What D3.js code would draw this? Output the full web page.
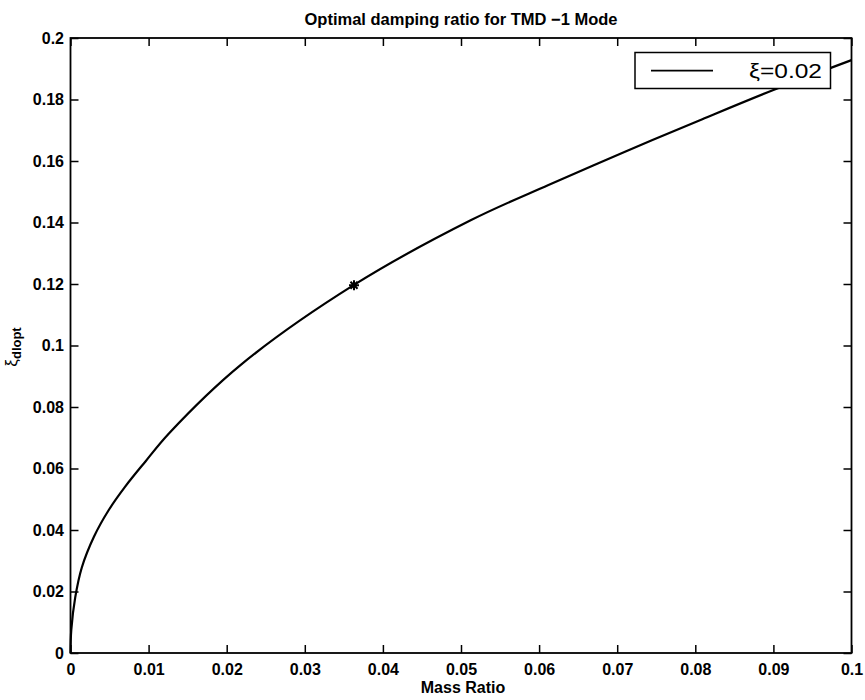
<!DOCTYPE html>
<html>
<head>
<meta charset="utf-8">
<script src="https://cdn.jsdelivr.net/npm/d3@7"></script>
<style>
  body { margin: 0; background: #fff; }
  text { font-family: "Liberation Sans", Arial, sans-serif; font-weight: bold; fill: #000; }
</style>
</head>
<body>
<div id="plot"></div>
<script>
// curve (mass ratio -> optimal damping ratio)
massRatio = [0, 0.0001, 0.0006, 0.00145, 0.003, 0.0049, 0.007, 0.0096, 0.0126, 0.0218, 0.0363, 0.0513, 0.0612, 0.0710, 0.0809, 0.0900, 0.1]
xiOpt     = [0, 0.0075, 0.0180, 0.0278, 0.0378, 0.0465, 0.0541, 0.0623, 0.0714, 0.0937, 0.1197, 0.1408, 0.1522, 0.1630, 0.1736, 0.1831, 0.1928]

// the starred point
markX = [0.0363]
markY = [0.1196]

xTicks = [0, 0.01, 0.02, 0.03, 0.04, 0.05, 0.06, 0.07, 0.08, 0.09, 0.1]
yTicks = [0, 0.02, 0.04, 0.06, 0.08, 0.1, 0.12, 0.14, 0.16, 0.18, 0.2]

legendLabel = "ξ=0.02"

const W = 865, H = 700
const mLeft = 70.5, mRight = 851.5, mTop = 38, mBottom = 653

svg = d3.select("#plot").append("svg").attr("width", W).attr("height", H).attr("viewBox", [0, 0, W, H])

x = d3.scaleLinear().domain([0, 0.1]).range([mLeft, mRight])
y = d3.scaleLinear().domain([0, 0.2]).range([mBottom, mTop])

fmt = d => d3.format("~g")(d)

// axes, ticks pointing inward on all four sides
function styleAxis(g, showText) {
  g.select(".domain").remove()
  g.selectAll(".tick line").attr("stroke", "#000").attr("stroke-width", 1.5)
  g.selectAll("text").style("font-size", "16px")
  if (!showText) g.selectAll("text").remove()
}

svg.append("g").attr("transform", `translate(0,${mBottom})`)
  .call(d3.axisBottom(x).tickValues(xTicks).tickFormat(fmt).tickSizeInner(-8).tickSizeOuter(0).tickPadding(10.6))
  .call(g => styleAxis(g, true))
svg.append("g").attr("transform", `translate(0,${mTop})`)
  .call(d3.axisTop(x).tickValues(xTicks).tickSizeInner(-8).tickSizeOuter(0))
  .call(g => styleAxis(g, false))
svg.append("g").attr("transform", `translate(${mLeft},0)`)
  .call(d3.axisLeft(y).tickValues(yTicks).tickFormat(fmt).tickSizeInner(-8).tickSizeOuter(0).tickPadding(6.5))
  .call(g => styleAxis(g, true))
svg.append("g").attr("transform", `translate(${mRight},0)`)
  .call(d3.axisRight(y).tickValues(yTicks).tickSizeInner(-8).tickSizeOuter(0))
  .call(g => styleAxis(g, false))

// box
svg.append("rect")
  .attr("x", mLeft).attr("y", mTop)
  .attr("width", mRight - mLeft).attr("height", mBottom - mTop)
  .attr("fill", "none").attr("stroke", "#000").attr("stroke-width", 1.8)

// curve
pts = massRatio.map((m, i) => [m, xiOpt[i]])
svg.append("path")
  .datum(pts)
  .attr("fill", "none")
  .attr("stroke", "#000")
  .attr("stroke-width", 2.2)
  .attr("d", d3.line().x(d => x(d[0])).y(d => y(d[1])).curve(d3.curveCatmullRom.alpha(0.5)))

// matlab style '*' marker: + and x on top of each other
function star(r) {
  const p = d3.path()
  for (let k = 0; k < 4; k++) {
    const a = k * Math.PI / 4
    p.moveTo(-r * Math.cos(a), -r * Math.sin(a))
    p.lineTo(r * Math.cos(a), r * Math.sin(a))
  }
  return p.toString()
}
svg.selectAll(".mark")
  .data(markX.map((m, i) => [m, markY[i]]))
  .join("path")
  .attr("class", "mark")
  .attr("transform", d => `translate(${x(d[0])},${y(d[1])})`)
  .attr("d", star(5))
  .attr("fill", "none")
  .attr("stroke", "#000")
  .attr("stroke-width", 2)

// legend
leg = svg.append("g")
leg.append("rect")
  .attr("x", 635).attr("y", 52.5).attr("width", 195.5).attr("height", 36)
  .attr("fill", "#fff").attr("stroke", "#000").attr("stroke-width", 1.5)
leg.append("line")
  .attr("x1", 651).attr("x2", 713).attr("y1", 70.7).attr("y2", 70.7)
  .attr("stroke", "#000").attr("stroke-width", 1.8)
leg.append("text")
  .attr("x", 822).attr("y", 77.5).attr("text-anchor", "end")
  .style("font-size", "20px").style("font-weight", "normal")
  .attr("textLength", 73).attr("lengthAdjust", "spacingAndGlyphs")
  .text(legendLabel)

// title and labels
svg.append("text")
  .attr("x", (mLeft + mRight) / 2).attr("y", 25).attr("text-anchor", "middle")
  .style("font-size", "16.5px")
  .text("Optimal damping ratio for TMD \u22121 Mode")

svg.append("text")
  .attr("x", (mLeft + mRight) / 2 + 2).attr("y", 693).attr("text-anchor", "middle")
  .style("font-size", "16px")
  .text("Mass Ratio")

ylab = svg.append("text")
  .attr("transform", "translate(17,347) rotate(-90)")
  .attr("text-anchor", "middle")
ylab.append("tspan").style("font-size", "17px").style("font-weight", "normal").text("ξ")
ylab.append("tspan").style("font-size", "13px").attr("dy", 4).text("dlopt")
</script>
</body>
</html>
